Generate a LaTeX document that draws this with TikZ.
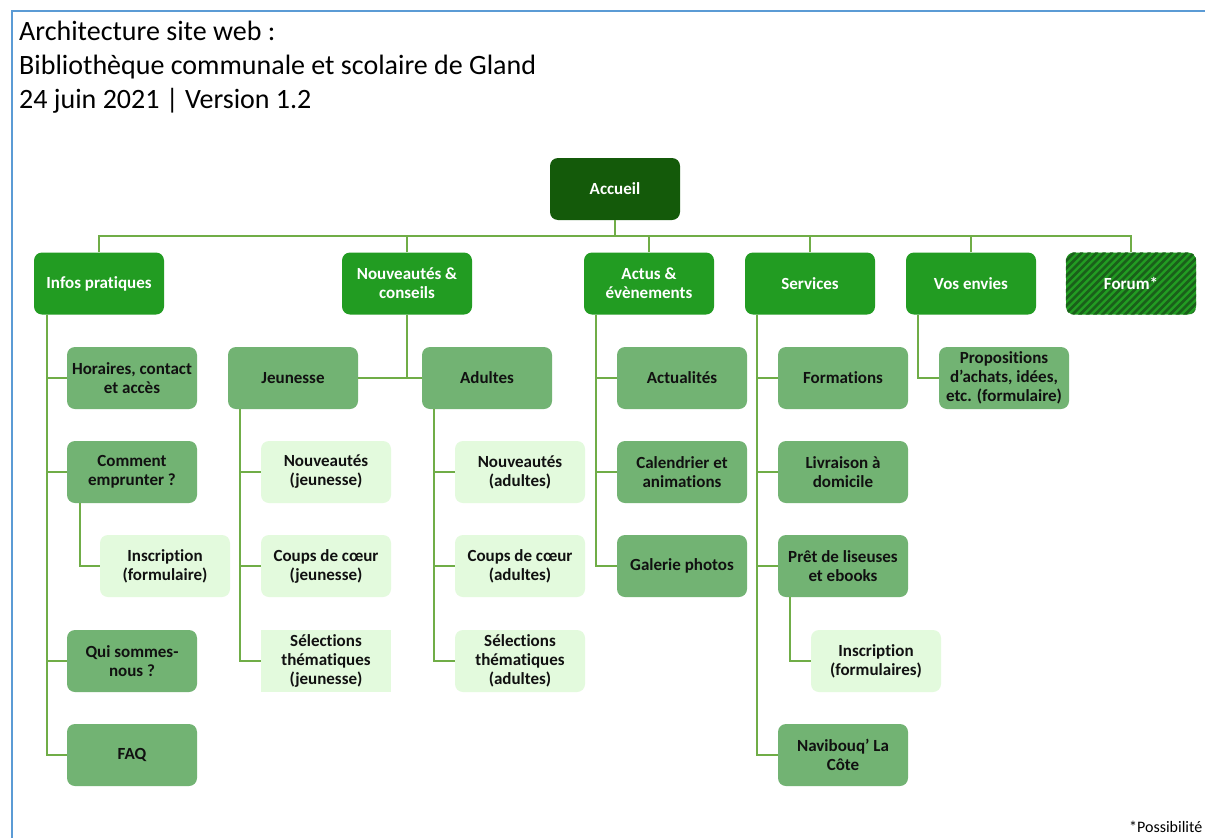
\documentclass[tikz,border=0pt]{standalone}
\usepackage{fontspec}
\setmainfont{Carlito}[Ligatures=NoCommon]
\definecolor{accg}{HTML}{145A0A}
\definecolor{lvlg}{HTML}{229C22}
\definecolor{midg}{HTML}{72B373}
\definecolor{lightg}{HTML}{E3FADD}
\definecolor{lineg}{HTML}{70AD47}
\definecolor{frameb}{HTML}{5B9BD5}
\definecolor{stripeg}{HTML}{1A601A}
\definecolor{txt}{HTML}{111111}
\tikzset{
  box/.style={minimum width=130pt, minimum height=62pt, inner sep=0pt, rounded corners=8pt,
    align=center, font=\fontsize{17}{19}\selectfont\bfseries},
  topbox/.style={box, fill=accg, text=white},
  lvlbox/.style={box, fill=lvlg, text=white},
  midbox/.style={box, fill=midg, text=txt},
  lightbox/.style={box, fill=lightg, text=txt},
  conn/.style={draw=lineg, line width=2pt},
  stripe/.style={draw=stripeg, line width=2.6pt},
  titletext/.style={anchor=base west, inner sep=0pt, font=\fontsize{28}{34}\selectfont},
}
\begin{document}
\begin{tikzpicture}[x=1pt, y=-1pt]
\useasboundingbox (0,0) rectangle (1205,838);
\fill[white] (0,0) rectangle (1205,838);
\draw[frameb, line width=2pt] (12,845) -- (12,11) -- (1215,11);

% title
\node[titletext] (t1) at (19,40) {Architecture site web :};
\node[titletext] (t2) at (19,74) {Bibliothèque communale et scolaire de Gland};
\node[titletext] (t3) at (19,108) {24 juin 2021 | Version 1.2};

% root
\node[topbox] (acc) at (615,189) {Accueil};

% level 1
\node[lvlbox] (infos) at (99,283.5) {Infos pratiques};
\node[lvlbox] (nc) at (407,283.5) {Nouveautés \&\\conseils};
\node[lvlbox] (actus) at (649,283.5) {Actus \&\\évènements};
\node[lvlbox] (serv) at (810,283.5) {Services};
\node[lvlbox] (vos) at (971,283.5) {Vos envies};
\node[lvlbox] (forum) at (1131,283.5) {};
\begin{scope}
  \clip[rounded corners=8pt] (forum.south west) rectangle (forum.north east);
  \foreach \i in {-70,-62.5,...,140} \draw[stripe] (1066+\i,316) -- (1066+\i+64,252);
\end{scope}
\node[font=\fontsize{17}{19}\selectfont\bfseries, text=white] (forumt) at (forum.center) {Forum*};

% infos children
\node[midbox] (hor) at (132,378) {Horaires, contact\\et accès};
\node[midbox] (com) at (132,472) {Comment\\emprunter ?};
\node[lightbox] (ins1) at (165,566) {Inscription\\(formulaire)};
\node[midbox] (qui) at (132,661) {Qui sommes-\\nous ?};
\node[midbox] (faq) at (132,755) {FAQ};

% nouveautes children
\node[midbox] (jeu) at (293,378) {Jeunesse};
\node[midbox] (adu) at (487,378) {Adultes};
\node[lightbox] (nj) at (326,472) {Nouveautés\\(jeunesse)};
\node[lightbox] (cj) at (326,566) {Coups de cœur\\(jeunesse)};
\node[lightbox, rounded corners=0pt] (sj) at (326,661) {Sélections\\thématiques\\(jeunesse)};
\node[lightbox] (na) at (520,472) {Nouveautés\\(adultes)};
\node[lightbox] (ca) at (520,566) {Coups de cœur\\(adultes)};
\node[lightbox] (sa) at (520,661) {Sélections\\thématiques\\(adultes)};

% actus children
\node[midbox] (act) at (682,378) {Actualités};
\node[midbox] (cal) at (682,472) {Calendrier et\\animations};
\node[midbox] (gal) at (682,566) {Galerie photos};

% services children
\node[midbox] (form) at (843,378) {Formations};
\node[midbox] (liv) at (843,472) {Livraison à\\domicile};
\node[midbox] (pret) at (843,566) {Prêt de liseuses\\et ebooks};
\node[lightbox] (ins2) at (876,661) {Inscription\\(formulaires)};
\node[midbox] (nav) at (843,755) {Navibouq’ La\\Côte};

% vos envies children
\node[midbox] (prop) at (1004,378) {Propositions\\d’achats, idées,\\etc. (formulaire)};

% footer
\node[anchor=base west, inner sep=0pt, font=\fontsize{16}{19}\selectfont] (foot) at (1129,832) {*Possibilité};

% connectors
\coordinate (bus) at (0,236);
\draw[conn] (acc.south) -- (acc.south |- bus);
\draw[conn] (infos.north) -- (infos.north |- bus) -- (forum.north |- bus) -- (forum.north);
\foreach \n in {nc,actus,serv,vos} \draw[conn] (\n.north) -- (\n.north |- bus);

\foreach \n in {hor,com,qui,faq} \draw[conn] ([xshift=13pt]infos.south west) |- (\n.west);
\draw[conn] ([xshift=13pt]com.south west) |- (ins1.west);

\draw[conn] (nc.south) -- (nc.south |- jeu.east);
\draw[conn] (jeu.east) -- (adu.west);
\foreach \n in {nj,cj,sj} \draw[conn] ([xshift=12pt]jeu.south west) |- (\n.west);
\foreach \n in {na,ca,sa} \draw[conn] ([xshift=12pt]adu.south west) |- (\n.west);

\foreach \n in {act,cal,gal} \draw[conn] ([xshift=12pt]actus.south west) |- (\n.west);
\foreach \n in {form,liv,pret,nav} \draw[conn] ([xshift=12pt]serv.south west) |- (\n.west);
\draw[conn] ([xshift=12pt]pret.south west) |- (ins2.west);
\draw[conn] ([xshift=12pt]vos.south west) |- (prop.west);
\end{tikzpicture}
\end{document}
